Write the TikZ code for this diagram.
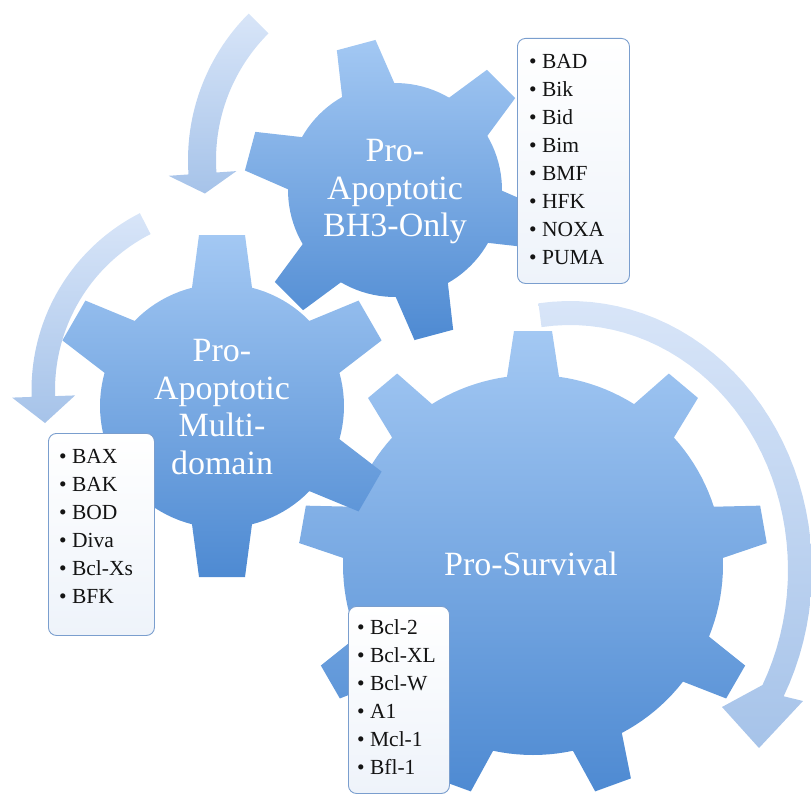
\documentclass[tikz,border=0pt]{standalone}
\usepackage{fontspec}
\setmainfont{Liberation Serif}
\definecolor{gearTop}{RGB}{163,200,243}
\definecolor{gearBot}{RGB}{78,138,210}
\definecolor{arrTop}{RGB}{216,229,248}
\definecolor{arrBot}{RGB}{166,195,233}
\definecolor{boxLine}{RGB}{122,158,206}
\definecolor{boxBot}{RGB}{238,243,250}
\definecolor{listInk}{RGB}{20,20,20}

% gear outline: cx cy r R n offset halfbase halftip
\newcommand\makegear[8]{%
  \gdef\gearpath{}%
  \pgfmathsetmacro\gStep{360/#5}%
  \pgfmathsetmacro\gHalf{asin(#7/#3)}%
  \pgfmathtruncatemacro\gN{#5}%
  \foreach \k in {1,...,\gN}{%
    \pgfmathsetmacro\gPh{#6+(\k-1)*\gStep}%
    \pgfmathsetmacro\gAx{#1+#3*cos(\gPh-\gHalf)}%
    \pgfmathsetmacro\gAy{#2+#3*sin(\gPh-\gHalf)}%
    \pgfmathsetmacro\gBx{#1+#4*cos(\gPh)+#8*sin(\gPh)}%
    \pgfmathsetmacro\gBy{#2+#4*sin(\gPh)-#8*cos(\gPh)}%
    \pgfmathsetmacro\gCx{#1+#4*cos(\gPh)-#8*sin(\gPh)}%
    \pgfmathsetmacro\gCy{#2+#4*sin(\gPh)+#8*cos(\gPh)}%
    \pgfmathsetmacro\gDx{#1+#3*cos(\gPh+\gHalf)}%
    \pgfmathsetmacro\gDy{#2+#3*sin(\gPh+\gHalf)}%
    \xdef\gearpath{\gearpath(\gAx,\gAy)--(\gBx,\gBy)--(\gCx,\gCy)--(\gDx,\gDy)--}%
    \foreach \j in {1,...,9}{%
      \pgfmathsetmacro\gEa{\gPh+\gHalf+\j*(\gStep-2*\gHalf)/10}%
      \pgfmathsetmacro\gEx{#1+#3*cos(\gEa)}%
      \pgfmathsetmacro\gEy{#2+#3*sin(\gEa)}%
      \xdef\gearpath{\gearpath(\gEx,\gEy)--}%
    }%
  }%
}

% curved arrow: cx cy rxo ryo rxi ryi t1 t2 headpoints
\newcommand\makearrow[9]{%
  \gdef\arrowpath{}%
  \foreach \j in {0,...,40}{%
    \pgfmathsetmacro\aT{#7+(#8-#7)*\j/40}%
    \pgfmathsetmacro\aX{#1+#3*cos(\aT)}%
    \pgfmathsetmacro\aY{#2+#4*sin(\aT)}%
    \xdef\arrowpath{\arrowpath(\aX,\aY)--}%
  }%
  \xdef\arrowpath{\arrowpath #9--}%
  \foreach \j in {0,...,40}{%
    \pgfmathsetmacro\aT{#8+(#7-#8)*\j/40}%
    \pgfmathsetmacro\aX{#1+#5*cos(\aT)}%
    \pgfmathsetmacro\aY{#2+#6*sin(\aT)}%
    \xdef\arrowpath{\arrowpath(\aX,\aY)--}%
  }%
}

\begin{document}
\begin{tikzpicture}[x=1pt,y=-1pt,
  gearfill/.style={top color=gearTop,bottom color=gearBot,draw=none},
  arrowfill/.style={top color=arrTop,bottom color=arrBot,draw=none},
  listbox/.style={draw=boxLine,line width=0.9pt,rounded corners=8pt,top color=white,bottom color=boxBot,inner sep=0pt,anchor=north west},
  listtext/.style={anchor=north west,inner sep=0pt,align=left,text=listInk,font=\fontsize{21.5}{28}\selectfont},
  gearlabel/.style={inner sep=0pt,align=center,text=white,font=\fontsize{34}{37.5}\selectfont}]
\useasboundingbox (0,0) rectangle (811,797);

% curved arrows
\makearrow{395}{160}{207}{207}{179}{179}{225}{176}{(168.6,175.8)--(204.9,193.5)--(236.4,171.1)}
\shade[arrowfill] \arrowpath cycle;
\makearrow{230}{390}{198.5}{198.5}{175}{175}{243}{178}{(12.1,397.6)--(45,423)--(75.1,395.4)}
\shade[arrowfill] \arrowpath cycle;
\makearrow{570}{570}{242}{269}{218}{245}{262.5}{388}{(803,701)--(759,748)--(722,707)}
\shade[arrowfill] \arrowpath cycle;

% gears
\makegear{533}{565}{190}{234}{9}{-90}{26}{19}
\shade[gearfill] \gearpath cycle;
\makegear{222}{406}{122}{171}{6}{-90}{30}{23}
\shade[gearfill] \gearpath cycle;
\makegear{395}{190}{107}{150}{6}{15}{27}{20}
\shade[gearfill] \gearpath cycle;

% gear labels
\node[gearlabel,anchor=north] (lblA) at (395,139.5) {Pro-\\Apoptotic\\BH3-Only};
\node[gearlabel,anchor=north] (lblB) at (222,339.5) {Pro-\\Apoptotic\\Multi-\\domain};
\node[gearlabel,anchor=base] (lblC) at (531,575) {Pro-Survival};

% lists
\node[listbox,minimum width=112pt,minimum height=245pt] (boxA) at (517,38) {};
\node[listtext] (listA) at (529,53.9) {\textbullet\ BAD\\\textbullet\ Bik\\\textbullet\ Bid\\\textbullet\ Bim\\\textbullet\ BMF\\\textbullet\ HFK\\\textbullet\ NOXA\\\textbullet\ PUMA};
\node[listbox,minimum width=106pt,minimum height=202pt] (boxB) at (48,433) {};
\node[listtext] (listB) at (59,448.9) {\textbullet\ BAX\\\textbullet\ BAK\\\textbullet\ BOD\\\textbullet\ Diva\\\textbullet\ Bcl-Xs\\\textbullet\ BFK};
\node[listbox,minimum width=101pt,minimum height=187pt] (boxC) at (348,606) {};
\node[listtext] (listC) at (357,619.4) {\textbullet\ Bcl-2\\\textbullet\ Bcl-XL\\\textbullet\ Bcl-W\\\textbullet\ A1\\\textbullet\ Mcl-1\\\textbullet\ Bfl-1};
\end{tikzpicture}
\end{document}
